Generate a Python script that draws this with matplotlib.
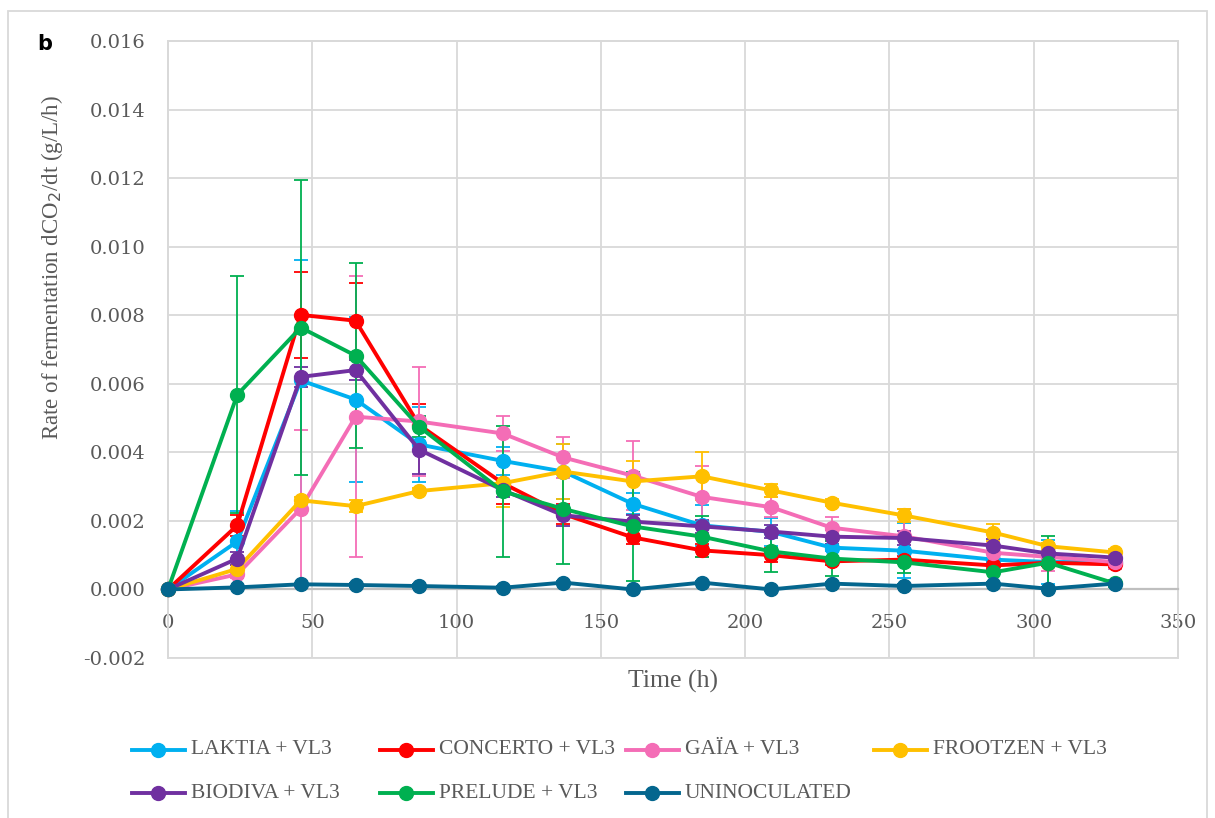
import matplotlib
matplotlib.use("Agg")
import matplotlib.pyplot as plt
from matplotlib.lines import Line2D
from matplotlib.patches import Rectangle

plt.rcParams['axes.unicode_minus'] = False

time = [0, 24, 46, 65, 87, 116, 137, 161, 185, 209, 230, 255, 286, 305, 328]

names = ["LAKTIA + VL3", "CONCERTO + VL3", "GAÏA + VL3", "FROOTZEN + VL3",
         "BIODIVA + VL3", "PRELUDE + VL3", "UNINOCULATED"]
colors = ["#00B0F0", "#FF0000", "#F46DB6", "#FFC000", "#7030A0", "#00B050", "#04668E"]

laktia = [0, 0.0014, 0.0061, 0.00554, 0.00423, 0.00375, 0.00344, 0.0025, 0.00187, 0.00168, 0.00122, 0.00113, 0.00087, 0.0008, 0.0008]
concerto = [0, 0.00187, 0.00801, 0.00784, 0.0048, 0.0031, 0.0022, 0.00152, 0.00114, 0.001, 0.00082, 0.00087, 0.0007, 0.00078, 0.00073]
gaia = [0, 0.00044, 0.00236, 0.00504, 0.0049, 0.00455, 0.00385, 0.00332, 0.0027, 0.0024, 0.0018, 0.00155, 0.00107, 0.00095, 0.0008]
frootzen = [0, 0.0006, 0.0026, 0.00243, 0.00287, 0.0031, 0.00344, 0.00315, 0.0033, 0.00289, 0.00253, 0.00216, 0.00166, 0.00126, 0.00108]
biodiva = [0, 0.0009, 0.0062, 0.0064, 0.00408, 0.0029, 0.00216, 0.00198, 0.00184, 0.00169, 0.00154, 0.0015, 0.00128, 0.00105, 0.00093]
prelude = [0, 0.00568, 0.00764, 0.00682, 0.00475, 0.00286, 0.00235, 0.00184, 0.00154, 0.00111, 0.0009, 0.00079, 0.0005, 0.00078, 0.00018]
uninoc = [0, 0.00006, 0.00015, 0.00013, 0.0001, 0.00005, 0.0002, 0.0, 0.0002, 0.0, 0.00017, 0.0001, 0.00017, 0.00002, 0.00017]

laktia_err = [0, 0.0009, 0.0035, 0.0024, 0.0011, 0.0004, 0.0008, 0.0003, 0.0006, 0.0004, 0.0001, 0.0008, 0.0002, 0.00065, 0.0002]
concerto_err = [0, 0.0003, 0.00126, 0.0011, 0.0006, 0.0006, 0.0003, 0.0002, 0.0002, 0.0002, 0.0001, 0.0001, 0.0001, 0.0001, 0.0001]
gaia_err = [0, 0.0001, 0.0023, 0.0041, 0.0016, 0.0005, 0.0006, 0.001, 0.0009, 0.0003, 0.0003, 0.0008, 0.0003, 0.0004, 0.0002]
frootzen_err = [0, 0.0001, 0.0001, 0.00018, 0.0001, 0.0007, 0.0008, 0.0006, 0.0007, 0.0002, 0.0001, 0.0002, 0.00025, 0.0001, 0.0001]
biodiva_err = [0, 0.0002, 0.0003, 0.0003, 0.0007, 0.0002, 0.0003, 0.0002, 0.0002, 0.0002, 0.0002, 0.0002, 0.0002, 0.0002, 0.0002]
prelude_err = [0, 0.00345, 0.0043, 0.0027, 0.0003, 0.0019, 0.0016, 0.0016, 0.0006, 0.0006, 0.0005, 0.0003, 0.0003, 0.00077, 0.0001]
uninoc_err = [0, 0.00005, 0.00005, 0.00005, 0.00005, 0.00005, 0.00005, 0.00005, 0.00005, 0.00005, 0.00005, 0.00005, 0.00005, 0.00005, 0.00005]

series = [laktia, concerto, gaia, frootzen, biodiva, prelude, uninoc]
errors = [laktia_err, concerto_err, gaia_err, frootzen_err, biodiva_err, prelude_err, uninoc_err]

xticks = [0, 50, 100, 150, 200, 250, 300, 350]
yticks = [-0.002, 0.0, 0.002, 0.004, 0.006, 0.008, 0.010, 0.012, 0.014, 0.016]

W, H = 1215, 818
fig = plt.figure(figsize=(W / 100, H / 100), dpi=100)
serif = "Liberation Serif"
tickfont = "DejaVu Serif"
tcol = "#595959"

def fx(px):
    return px / W

def fy(py):
    return 1 - py / H

ax = fig.add_axes([fx(168), fy(658), fx(1178) - fx(168), fy(41) - fy(658)])

for s, e, c in zip(series, errors, colors):
    ax.errorbar(time, s, yerr=e, color=c, lw=2.8, marker='o', markersize=10,
                elinewidth=1.3, capsize=5, capthick=1.3, ecolor=c, zorder=3,
                clip_on=False)

ax.set_xlim(0, 350)
ax.set_ylim(-0.002, 0.016)
ax.set_xticks(xticks)
ax.set_yticks(yticks)
ax.set_yticklabels([f"{v:.3f}" for v in yticks])
ax.grid(True, color="#d9d9d9", lw=1.3, zorder=0)
ax.set_axisbelow(True)
for sp in ax.spines.values():
    sp.set_color("#d9d9d9")
    sp.set_linewidth(1.3)
ax.spines['bottom'].set_position(('data', 0))
ax.spines['bottom'].set_color("#bfbfbf")
ax.spines['bottom'].set_linewidth(1.6)
ax.add_patch(Rectangle((0, 0), 1, 1, transform=ax.transAxes, fill=False,
                       edgecolor="#d9d9d9", lw=1.3, clip_on=False, zorder=1))
ax.tick_params(axis='both', length=0, labelsize=14, labelcolor=tcol)
ax.tick_params(axis='y', pad=16)
ax.tick_params(axis='x', pad=18)
for lab in ax.get_xticklabels() + ax.get_yticklabels():
    lab.set_fontfamily(tickfont)

fig.text(fx(673), fy(681), "Time (h)", ha='center', va='center',
         fontsize=18.5, color=tcol, family=serif)
fig.text(fx(52), fy(268), "Rate of fermentation dCO$_2$/dt (g/L/h)", rotation=90,
         ha='center', va='center', fontsize=16.5, color=tcol, family=serif)
fig.text(fx(45), fy(44), "b", ha='center', va='center', fontsize=15,
         fontweight='bold', color="black", family="DejaVu Sans")

# outer frame
fig.add_artist(Rectangle((fx(8), fy(830)), fx(1207) - fx(8), fy(11) - fy(830),
                         transform=fig.transFigure, fill=False,
                         edgecolor="#d9d9d9", lw=1.3))

# legend (manual, row-major like Excel)
col_x = [132, 380, 626, 874]
row_y = [750, 793]
for i, (name, c) in enumerate(zip(names, colors)):
    r, k = divmod(i, 4)
    x0, y0 = col_x[k], row_y[r]
    fig.add_artist(Line2D([fx(x0), fx(x0 + 53)], [fy(y0), fy(y0)], color=c, lw=2.8,
                          transform=fig.transFigure))
    fig.add_artist(Line2D([fx(x0 + 26)], [fy(y0)], color=c, marker='o', markersize=10,
                          transform=fig.transFigure))
    fig.text(fx(x0 + 59), fy(y0), name, ha='left', va='center', fontsize=15.5,
             color=tcol, family=serif)

fig.savefig("out.png", dpi=100)
